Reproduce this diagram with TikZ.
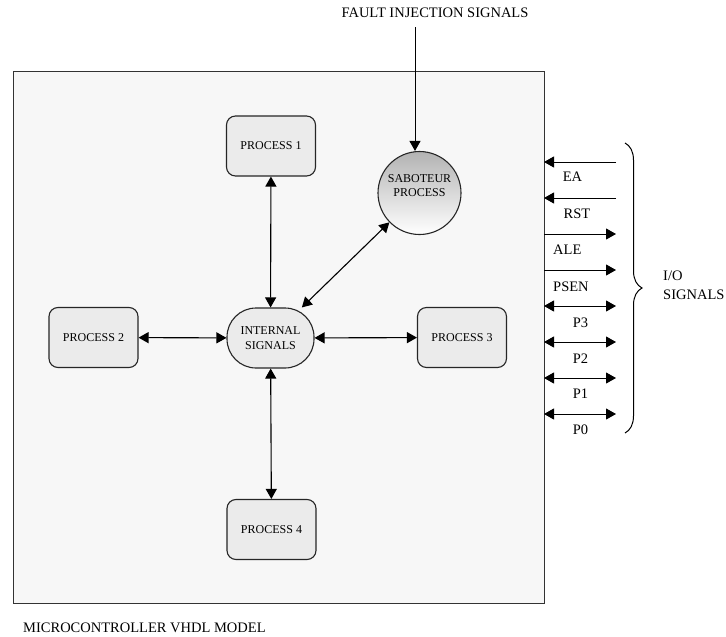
\documentclass[tikz,border=0pt]{standalone}
\usepackage{fontspec}
\setmainfont{Liberation Serif}
\usetikzlibrary{arrows.meta, positioning, decorations.pathreplacing}
\tikzset{
  mcubox/.style={draw=black!80, line width=1pt, fill=black!3,
    minimum width=531pt, minimum height=532pt, inner sep=0pt},
  pbox/.style={draw=black!85, line width=1.1pt, rounded corners=9pt, align=center,
    minimum width=89pt, minimum height=60pt, inner sep=2pt,
    font=\fontsize{12}{14.5}\selectfont, fill=black!8},
  ibox/.style={pbox, rounded corners=29pt, minimum width=87pt},
  sabbox/.style={circle, draw=black!85, line width=1.1pt, minimum size=83pt, inner sep=0pt,
    align=center, font=\fontsize{12}{14.5}\selectfont,
    top color=black!30, middle color=black!9, bottom color=white},
  lbl/.style={font=\fontsize{14.5}{19}\selectfont, inner sep=0pt, align=left},
  link/.style={{Triangle[length=10pt, width=11pt]}-{Triangle[length=10pt, width=11pt]},
    line width=1.1pt, draw=black},
  iolink/.style={-{Triangle[length=10pt, width=11pt]}, line width=1pt, draw=black},
  iobi/.style={iolink, {Triangle[length=10pt, width=11pt]}-{Triangle[length=10pt, width=11pt]}},
}
\begin{document}
\begin{tikzpicture}[x=1pt, y=-1pt]
    \useasboundingbox (0,0) rectangle (726,637);
    % model outline
    \node[mcubox] (mcu) at (278.5,337) {};
    \node[lbl, anchor=west] (model) at (23,628) {MICROCONTROLLER VHDL MODEL};

    % processes
    \node[pbox] (p1) at (271,146) {PROCESS 1};
    \node[pbox] (p2) at (93.5,337.5) {PROCESS 2};
    \node[pbox] (p3) at (462,337.5) {PROCESS 3};
    \node[pbox] (p4) at (271.5,529.5) {PROCESS 4};
    \node[ibox] (sig) at (270.5,338) {INTERNAL\\SIGNALS};
    \node[sabbox] (sab) at (419.5,193) {SABOTEUR\\PROCESS\\\mbox{}};

    % fault injection
    \node[lbl] (fault) at (435,13) {FAULT INJECTION SIGNALS};
    \coordinate (finj) at (415,27);
    \draw[iolink] (finj) -- (finj |- sab.north);

    \draw[link] (p1) -- (sig);
    \draw[link] (p2) -- (sig);
    \draw[link] (sig) -- (p3);
    \draw[link] (sig) -- (p4);
    \draw[link] (sig) -- (sab);

    % I/O signals
    \coordinate (ea-i) at (544,162);   \coordinate (ea-o) at (616,162);
    \coordinate (rst-i) at (544,198);  \coordinate (rst-o) at (616,198);
    \coordinate (ale-i) at (544,234);  \coordinate (ale-o) at (616,234);
    \coordinate (psen-i) at (544,270); \coordinate (psen-o) at (616,270);
    \coordinate (p3-i) at (544,306);   \coordinate (p3-o) at (616,306);
    \coordinate (p2-i) at (544,342);   \coordinate (p2-o) at (616,342);
    \coordinate (p1-i) at (544,378);   \coordinate (p1-o) at (616,378);
    \coordinate (p0-i) at (544,414);   \coordinate (p0-o) at (616,414);
    \draw[iolink] (ea-o) -- (ea-i);
    \draw[iolink] (rst-o) -- (rst-i);
    \draw[iolink] (ale-i) -- (ale-o);
    \draw[iolink] (psen-i) -- (psen-o);
    \draw[iobi] (p3-i) -- (p3-o);
    \draw[iobi] (p2-i) -- (p2-o);
    \draw[iobi] (p1-i) -- (p1-o);
    \draw[iobi] (p0-i) -- (p0-o);
    \node[lbl] (ea) at (572.5,177) {EA};
    \node[lbl] (rst) at (577,214) {RST};
    \node[lbl, anchor=west] (ale) at (553,250) {ALE};
    \node[lbl, anchor=west] (psen) at (553,287) {PSEN};
    \node[lbl] (lp3) at (580.5,323) {P3};
    \node[lbl] (lp2) at (580.5,359) {P2};
    \node[lbl] (lp1) at (580.5,394) {P1};
    \node[lbl] (lp0) at (580.5,430) {P0};

    \draw[line width=1pt, decorate, decoration={brace, amplitude=17pt}] (625,143) -- (625,433);
    \node[lbl, anchor=west] (io) at (663,285) {I/O\\SIGNALS};
  \end{tikzpicture}
\end{document}
